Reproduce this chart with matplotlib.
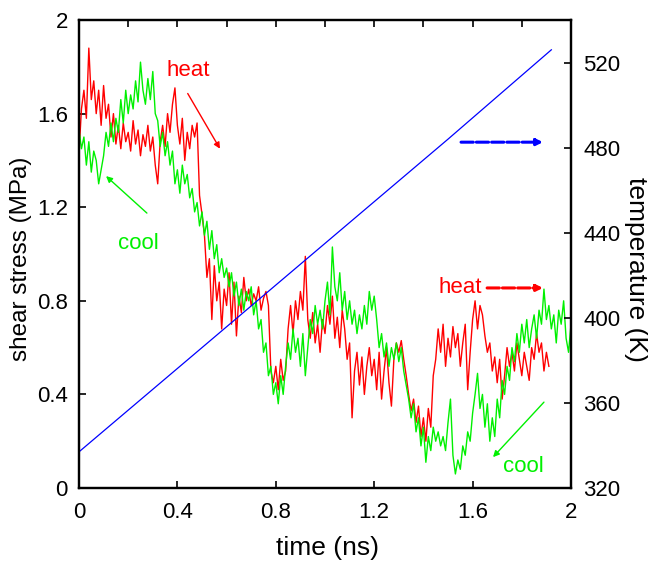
import numpy as np
import matplotlib
matplotlib.use("Agg")
import matplotlib.pyplot as plt
from matplotlib.ticker import MultipleLocator

plt.rcParams['font.family'] = ['Liberation Sans', 'DejaVu Sans']

# shear stress while heating (red), sampled every 0.01 ns from t = 0
heat_stress = [
    1.43, 1.62, 1.70, 1.58, 1.88, 1.66, 1.74, 1.60, 1.70, 1.55,
    1.72, 1.58, 1.64, 1.50, 1.60, 1.47, 1.55, 1.45, 1.56, 1.48,
    1.52, 1.44, 1.57, 1.47, 1.53, 1.42, 1.51, 1.46, 1.55, 1.44,
    1.50, 1.38, 1.30, 1.48, 1.55, 1.46, 1.60, 1.52, 1.64, 1.71,
    1.55, 1.47, 1.58, 1.40, 1.52, 1.45, 1.55, 1.50, 1.56, 1.25,
    1.17, 1.08, 0.90, 0.98, 0.72, 0.95, 0.80, 0.88, 0.68, 0.85,
    0.78, 0.92, 0.70, 0.88, 0.65, 0.82, 0.75, 0.90, 0.80, 0.85,
    0.78, 0.83, 0.80, 0.86, 0.76, 0.81, 0.84, 0.78, 0.50, 0.45,
    0.52, 0.42, 0.55, 0.46, 0.50, 0.68, 0.78, 0.66, 0.80, 0.72,
    0.84, 0.76, 0.99, 0.72, 0.64, 0.75, 0.62, 0.70, 0.58, 0.72,
    0.66, 0.78, 0.70, 0.82, 0.64, 0.73, 0.60, 0.76, 0.68, 0.55,
    0.62, 0.30, 0.50, 0.58, 0.44, 0.56, 0.40, 0.52, 0.60, 0.48,
    0.55, 0.42, 0.58, 0.38, 0.50, 0.60, 0.45, 0.35, 0.55, 0.62,
    0.58, 0.63, 0.55, 0.48, 0.40, 0.33, 0.38, 0.28, 0.35, 0.22,
    0.30, 0.20, 0.34, 0.26, 0.48, 0.55, 0.68, 0.58, 0.70, 0.52,
    0.64, 0.56, 0.69, 0.60, 0.66, 0.52, 0.62, 0.70, 0.42, 0.58,
    0.72, 0.80, 0.68, 0.78, 0.74, 0.65, 0.58, 0.62, 0.50, 0.56,
    0.45, 0.55, 0.38, 0.48, 0.60, 0.52, 0.58, 0.50, 0.62, 0.55,
    0.48, 0.58, 0.52, 0.46, 0.60, 0.55, 0.66, 0.58, 0.62, 0.50,
    0.58, 0.52,
]

# shear stress while cooling (green), sampled every 0.01 ns from t = 0
cool_stress = [
    1.53, 1.45, 1.50, 1.38, 1.48, 1.35, 1.44, 1.40, 1.30, 1.36,
    1.42, 1.52, 1.46, 1.56, 1.48, 1.58, 1.52, 1.66, 1.56, 1.70,
    1.60, 1.68, 1.62, 1.74, 1.65, 1.82, 1.70, 1.64, 1.75, 1.66,
    1.78, 1.60, 1.57, 1.46, 1.52, 1.42, 1.48, 1.38, 1.44, 1.30,
    1.36, 1.26, 1.38, 1.30, 1.34, 1.24, 1.28, 1.18, 1.22, 1.12,
    1.18, 1.08, 1.14, 1.02, 1.10, 0.98, 1.04, 0.92, 0.98, 0.90,
    0.94, 0.86, 0.92, 0.82, 0.88, 0.78, 0.85, 0.76, 0.84, 0.80,
    0.86, 0.74, 0.80, 0.68, 0.72, 0.58, 0.62, 0.48, 0.52, 0.40,
    0.45, 0.36, 0.48, 0.40, 0.52, 0.62, 0.55, 0.68, 0.58, 0.64,
    0.52, 0.66, 0.48, 0.60, 0.72, 0.66, 0.78, 0.70, 0.76, 0.68,
    0.80, 0.88, 0.74, 1.03, 0.86, 0.80, 0.92, 0.76, 0.84, 0.72,
    0.80, 0.70, 0.76, 0.66, 0.74, 0.68, 0.78, 0.70, 0.84, 0.76,
    0.82, 0.72, 0.60, 0.66, 0.56, 0.62, 0.52, 0.60, 0.55, 0.62,
    0.54, 0.60, 0.50, 0.44, 0.38, 0.30, 0.36, 0.24, 0.30, 0.18,
    0.26, 0.11, 0.22, 0.16, 0.26, 0.20, 0.24, 0.18, 0.22, 0.16,
    0.28, 0.38, 0.14, 0.06, 0.12, 0.08, 0.18, 0.14, 0.24, 0.20,
    0.32, 0.40, 0.49, 0.34, 0.40, 0.26, 0.36, 0.20, 0.30, 0.22,
    0.38, 0.30, 0.46, 0.40, 0.52, 0.46, 0.60, 0.54, 0.66, 0.58,
    0.70, 0.62, 0.72, 0.60, 0.68, 0.74, 0.64, 0.76, 0.70, 0.85,
    0.72, 0.78, 0.68, 0.74, 0.62, 0.76, 0.70, 0.80, 0.64, 0.58,
    0.70,
]

dt = 0.01
heat_time = np.arange(len(heat_stress)) * dt
cool_time = np.arange(len(cool_stress)) * dt

# temperature ramp (blue)
temp_time = [0.0, 0.5, 1.0, 1.5, 1.92]
temp_K = [337, 386, 435, 484, 526]

RED = '#ff0000'
GREEN = '#00f000'
BLUE = '#0000ff'

fig = plt.figure(figsize=(6.48, 5.61), dpi=100)
ax = fig.add_axes([0.1219, 0.1301, 0.7593, 0.8342])

ax.plot(heat_time, heat_stress, color=RED, lw=1.0)
ax.plot(cool_time, cool_stress, color=GREEN, lw=1.0)
ax.set_xlim(0, 2)
ax.set_ylim(0, 2)
ax.xaxis.set_major_locator(MultipleLocator(0.4))
ax.xaxis.set_minor_locator(MultipleLocator(0.2))
ax.yaxis.set_major_locator(MultipleLocator(0.4))
ax.xaxis.set_major_formatter(lambda v, p: '%g' % round(v, 2))
ax.yaxis.set_major_formatter(lambda v, p: '%g' % round(v, 2))
ax.tick_params(which='major', direction='in', length=5, width=1.2,
               top=True, labelsize=16, pad=8)
ax.tick_params(which='minor', direction='in', length=5, width=1.2,
               bottom=False, top=True)
ax.tick_params(axis='x', pad=10)

ax2 = ax.twinx()
ax2.plot(temp_time, temp_K, color=BLUE, lw=0.9)
ax2.set_ylim(320, 540)
ax2.set_yticks([320, 360, 400, 440, 480, 520])
ax2.tick_params(direction='in', length=5, width=1.2, labelsize=16, pad=9)

for a in (ax, ax2):
    for s in a.spines.values():
        s.set_linewidth(1.6)

fig.text(0.0324, 0.538, 'shear stress (MPa)', rotation=90,
         ha='center', va='center', fontsize=17.5)
fig.text(0.9815, 0.519, 'temperature (K)', rotation=270,
         ha='center', va='center', fontsize=19)
fig.text(0.506, 0.0232, 'time (ns)', ha='center', va='center', fontsize=19)

# labels and arrows
arrow = dict(arrowstyle='-|>', lw=1.0, mutation_scale=9, shrinkA=0, shrinkB=0)
ax.text(0.443, 1.786, 'heat', color=RED, fontsize=16,
        ha='center', va='center', zorder=5)
ax.annotate('', xy=(0.573, 1.45), xytext=(0.442, 1.686),
            arrowprops=dict(arrow, color=RED), zorder=5)
ax.text(0.24, 1.047, 'cool', color=GREEN, fontsize=16,
        ha='center', va='center', zorder=5)
ax.annotate('', xy=(0.11, 1.333), xytext=(0.276, 1.175),
            arrowprops=dict(arrow, color=GREEN), zorder=5)
ax.annotate('', xy=(1.886, 1.478), xytext=(1.553, 1.478),
            arrowprops=dict(arrow, color=BLUE, lw=2.2, linestyle=(0, (4, 1))),
            zorder=5)
ax.text(1.549, 0.855, 'heat', color=RED, fontsize=16,
        ha='center', va='center', zorder=5)
ax.annotate('', xy=(1.886, 0.855), xytext=(1.659, 0.855),
            arrowprops=dict(arrow, color=RED, lw=2.2, linestyle=(0, (4, 1))),
            zorder=5)
ax.text(1.805, 0.094, 'cool', color=GREEN, fontsize=16,
        ha='center', va='center', zorder=5)
ax.annotate('', xy=(1.683, 0.132), xytext=(1.89, 0.367),
            arrowprops=dict(arrow, color=GREEN), zorder=5)

fig.savefig('out.png', dpi=100)
